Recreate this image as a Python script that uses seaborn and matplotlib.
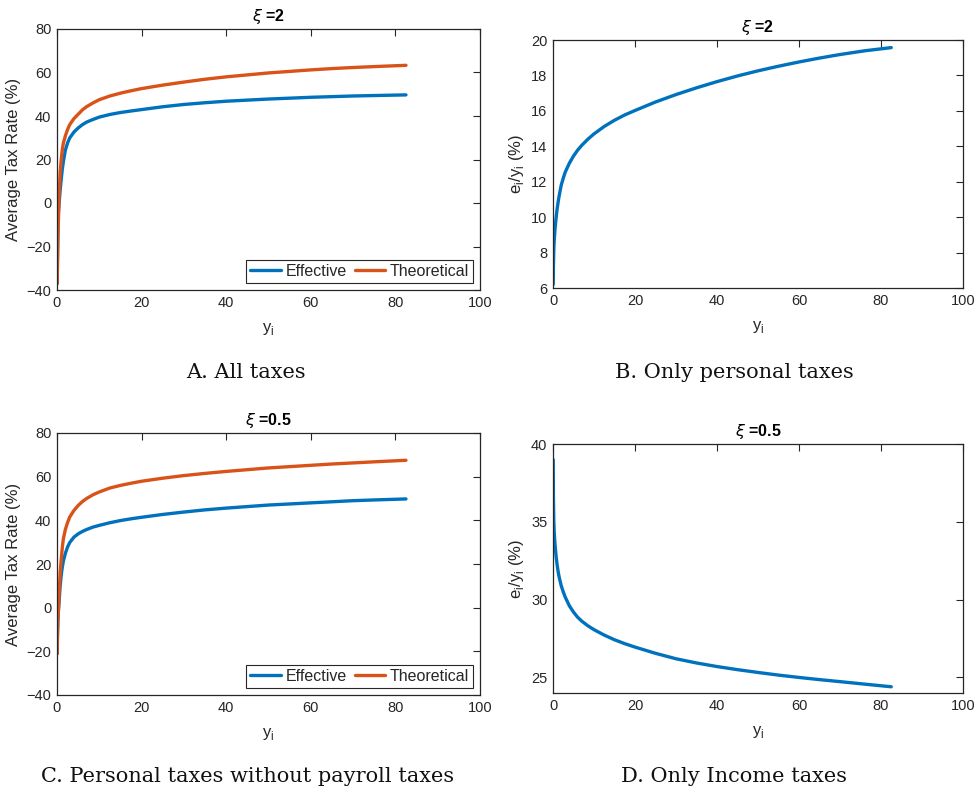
import matplotlib
matplotlib.use("Agg")
import matplotlib.pyplot as plt
import pandas as pd
import seaborn as sns

# Income grid (y_i) shared by every series
income = [0.05, 0.1, 0.2, 0.3, 0.5, 0.75, 1, 1.25, 1.5, 2, 2.5, 3, 4, 5, 6,
          7, 8.5, 10, 12.5, 15, 17.5, 20, 25, 30, 35, 40, 45, 50, 55, 60,
          65, 70, 76, 82.5]

# A. All taxes, xi = 2 (average tax rate, %)
all_effective = [-37, -28, -14, -5, 0, 6, 11, 15.5, 19, 24.5, 27.6, 29.9,
                 32.6, 34.5, 36, 37.2, 38.4, 39.5, 40.7, 41.6, 42.3, 42.95,
                 44.25, 45.3, 46.1, 46.8, 47.3, 47.8, 48.2, 48.6, 48.9, 49.2,
                 49.45, 49.7]
all_theoretical = [-37, -29, -16, -10, 3, 14, 20, 24.5, 27.5, 31, 33.8, 36,
                   38.8, 40.8, 42.8, 44.3, 46, 47.5, 49.2, 50.5, 51.6, 52.6,
                   54.2, 55.6, 56.9, 58, 58.9, 59.8, 60.5, 61.2, 61.8, 62.3,
                   62.8, 63.3]

# B. Only personal taxes, xi = 2 (e_i / y_i, %)
personal_ratio = [6.2, 7.2, 8.2, 8.7, 9.35, 9.95, 10.45, 10.85, 11.2, 11.8,
                  12.2, 12.55, 13.05, 13.45, 13.78, 14.05, 14.4, 14.7, 15.12,
                  15.47, 15.77, 16.02, 16.5, 16.92, 17.3, 17.65, 17.97, 18.26,
                  18.52, 18.76, 18.98, 19.18, 19.39, 19.57]

# C. Personal taxes without payroll taxes, xi = 0.5 (average tax rate, %)
nopayroll_effective = [-21, -14, -7, -2, 3, 10, 15, 18.5, 21.3, 25, 27.8,
                       29.8, 32.3, 33.8, 34.9, 35.8, 36.9, 37.7, 38.9, 39.9,
                       40.7, 41.4, 42.7, 43.8, 44.8, 45.6, 46.3, 47, 47.5, 48,
                       48.5, 49, 49.4, 49.8]
nopayroll_theoretical = [-21, -12, -5, -3, 6, 16, 22, 27.5, 31.5, 36, 39,
                         41.5, 44.5, 46.8, 48.6, 50, 51.7, 53, 54.8, 56, 57,
                         57.9, 59.3, 60.5, 61.5, 62.4, 63.2, 64, 64.6, 65.2,
                         65.8, 66.3, 66.9, 67.5]

# D. Only income taxes, xi = 0.5 (e_i / y_i, %)
income_ratio = [39.0, 36.6, 35.0, 34.3, 33.5, 32.8, 32.25, 31.8, 31.45, 30.9,
                30.5, 30.15, 29.6, 29.2, 28.87, 28.62, 28.32, 28.07, 27.72,
                27.42, 27.17, 26.95, 26.55, 26.2, 25.93, 25.7, 25.5, 25.32,
                25.15, 25.0, 24.86, 24.73, 24.57, 24.4]

series_names = ["Effective", "Theoretical"]
BLUE = "#0072BD"
ORANGE = "#D95319"
INK = "#262626"

sns.set_theme(style="white")
plt.rcParams["font.family"] = ["Liberation Sans", "DejaVu Sans"]
plt.rcParams["mathtext.fontset"] = "dejavusans"

W, H = 979, 794
fig = plt.figure(figsize=(W / 100, H / 100), dpi=100)
fig.patch.set_facecolor("white")


def place(left, top, right, bottom):
    return fig.add_axes([left / W, 1 - bottom / H, (right - left) / W,
                         (bottom - top) / H])


def style(ax, yticks, ylim, ylabel, title):
    ax.set_xlim(0, 100)
    ax.set_xticks(range(0, 101, 20))
    ax.set_ylim(*ylim)
    ax.set_yticks(yticks)
    ax.tick_params(direction="in", top=True, right=True, length=5, width=0.8,
                   colors=INK, labelsize=10.5, pad=4)
    for sp in ax.spines.values():
        sp.set_color(INK)
        sp.set_linewidth(0.9)
    ax.set_xlabel(r"y$_\mathregular{i}$", fontsize=12, color=INK, labelpad=8)
    ax.set_ylabel(ylabel, fontsize=12, color=INK, labelpad=4)
    ax.set_title(title, fontsize=11.5, fontweight="bold", color="black", pad=6)


def two_series(ax, eff, theo):
    df = pd.DataFrame({
        "y": income * 2,
        "rate": eff + theo,
        "series": [series_names[0]] * len(income) + [series_names[1]] * len(income),
    })
    sns.lineplot(data=df, x="y", y="rate", hue="series", hue_order=series_names,
                 palette=[BLUE, ORANGE], linewidth=2.4, ax=ax, legend=True)
    leg = ax.legend(loc="lower right", ncol=2, fontsize=11.5, frameon=True,
                    fancybox=False, edgecolor=INK, framealpha=1,
                    borderaxespad=0, bbox_to_anchor=(1 - 7 / 423, 7 / 261),
                    handlelength=1.9, handletextpad=0.3, columnspacing=0.5,
                    borderpad=0.25)
    leg.get_frame().set_linewidth(0.8)


def one_series(ax, vals):
    df = pd.DataFrame({"y": income, "ratio": vals})
    sns.lineplot(data=df, x="y", y="ratio", color=BLUE, linewidth=2.4, ax=ax)


xi2 = r"$\xi$ =2"
xi05 = r"$\xi$ =0.5"
ratio_label = r"e$_\mathregular{i}$/y$_\mathregular{i}$ (%)"

axA = place(57, 29, 480, 290)
two_series(axA, all_effective, all_theoretical)
style(axA, range(-40, 81, 20), (-40, 80), "Average Tax Rate (%)", xi2)

axB = place(553, 40, 963, 288)
one_series(axB, personal_ratio)
style(axB, range(6, 21, 2), (6, 20), ratio_label, xi2)

axC = place(57, 433, 480, 695)
two_series(axC, nopayroll_effective, nopayroll_theoretical)
style(axC, range(-40, 81, 20), (-40, 80), "Average Tax Rate (%)", xi05)

axD = place(553, 444, 963, 693)
one_series(axD, income_ratio)
style(axD, [25, 30, 35, 40], (24, 40), ratio_label, xi05)

captions = [
    (246, 373, "A. All taxes"),
    (734, 373, "B. Only personal taxes"),
    (248, 776, "C. Personal taxes without payroll taxes"),
    (734, 776, "D. Only Income taxes"),
]
for cx, cy, txt in captions:
    fig.text(cx / W, 1 - cy / H, txt, ha="center", va="center",
             family="DejaVu Serif", fontsize=15, color="#111111")

fig.savefig("out.png", dpi=100, facecolor="white")
